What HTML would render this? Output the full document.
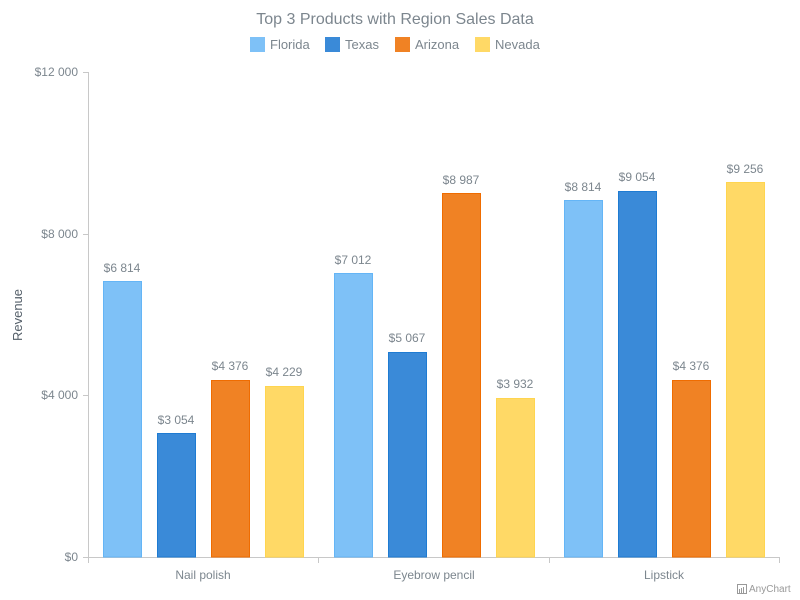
<!DOCTYPE html>
<html><head><meta charset="utf-8"><style>body{margin:0;background:#fff}svg{display:block;font-family:"Liberation Sans",sans-serif}</style></head><body>
<svg width="800" height="600" xmlns="http://www.w3.org/2000/svg">
<text x="395" y="24" text-anchor="middle" font-size="16" fill="#7c868e">Top 3 Products with Region Sales Data</text>
<g font-size="13" fill="#7c868e">
<rect x="250" y="37" width="15" height="15" fill="#7ec1f7"/><text x="270" y="49">Florida</text>
<rect x="325" y="37" width="15" height="15" fill="#3a8ad8"/><text x="345" y="49">Texas</text>
<rect x="395" y="37" width="15" height="15" fill="#f08224"/><text x="415" y="49">Arizona</text>
<rect x="475" y="37" width="15" height="15" fill="#ffd966"/><text x="495" y="49">Nevada</text>
</g>
<text transform="translate(22,315) rotate(-90)" text-anchor="middle" font-size="13" fill="#545f69">Revenue</text>
<g stroke="#c8c8c8" stroke-width="1">
<line x1="88.5" y1="72" x2="88.5" y2="557"/>
<line x1="88" y1="557.5" x2="780" y2="557.5"/>
<line x1="83" y1="72.5" x2="88" y2="72.5"/><line x1="83" y1="234.5" x2="88" y2="234.5"/><line x1="83" y1="395.5" x2="88" y2="395.5"/><line x1="83" y1="557.5" x2="88" y2="557.5"/>
<line x1="88.5" y1="557" x2="88.5" y2="563"/><line x1="318.5" y1="557" x2="318.5" y2="563"/><line x1="549.5" y1="557" x2="549.5" y2="563"/><line x1="779.5" y1="557" x2="779.5" y2="563"/>
</g>
<g font-size="12" fill="#7c868e" text-anchor="end">
<text x="78" y="76">$12 000</text><text x="78" y="238">$8 000</text><text x="78" y="399">$4 000</text><text x="78" y="561">$0</text>
</g>
<g font-size="12" fill="#7c868e" text-anchor="middle">
<text x="203" y="579">Nail polish</text><text x="434" y="579">Eyebrow pencil</text><text x="664" y="579">Lipstick</text>
</g>
<g stroke-width="1">
<rect x="103.5" y="281.5" width="38" height="275.5" fill="#7ec1f7" stroke="#64b5f6"/>
<rect x="157.5" y="433.5" width="38" height="123.5" fill="#3a8ad8" stroke="#1e7bd2"/>
<rect x="211.5" y="380.5" width="38" height="176.5" fill="#f08224" stroke="#ef6c00"/>
<rect x="265.5" y="386.5" width="38" height="170.5" fill="#ffd966" stroke="#ffd54f"/>
<rect x="334.5" y="273.5" width="38" height="283.5" fill="#7ec1f7" stroke="#64b5f6"/>
<rect x="388.5" y="352.5" width="38" height="204.5" fill="#3a8ad8" stroke="#1e7bd2"/>
<rect x="442.5" y="193.5" width="38" height="363.5" fill="#f08224" stroke="#ef6c00"/>
<rect x="496.5" y="398.5" width="38" height="158.5" fill="#ffd966" stroke="#ffd54f"/>
<rect x="564.5" y="200.5" width="38" height="356.5" fill="#7ec1f7" stroke="#64b5f6"/>
<rect x="618.5" y="191.5" width="38" height="365.5" fill="#3a8ad8" stroke="#1e7bd2"/>
<rect x="672.5" y="380.5" width="38" height="176.5" fill="#f08224" stroke="#ef6c00"/>
<rect x="726.5" y="182.5" width="38" height="374.5" fill="#ffd966" stroke="#ffd54f"/>
</g>
<g font-size="12" fill="#7c868e" text-anchor="middle">
<text x="122" y="272">$6 814</text><text x="176" y="424">$3 054</text><text x="230" y="370">$4 376</text><text x="284" y="376">$4 229</text>
<text x="353" y="264">$7 012</text><text x="407" y="342">$5 067</text><text x="461" y="184">$8 987</text><text x="515" y="388">$3 932</text>
<text x="583" y="191">$8 814</text><text x="637" y="181">$9 054</text><text x="691" y="370">$4 376</text><text x="745" y="173">$9 256</text>
</g>
<rect x="737.5" y="584.5" width="9" height="9" fill="none" stroke="#999"/>
<g fill="#999"><rect x="739" y="589" width="1" height="4"/><rect x="741" y="588" width="1" height="5"/><rect x="743" y="587" width="1" height="6"/></g>
<text x="749" y="592" font-size="10" fill="#999">AnyChart</text>
</svg>
</body></html>
